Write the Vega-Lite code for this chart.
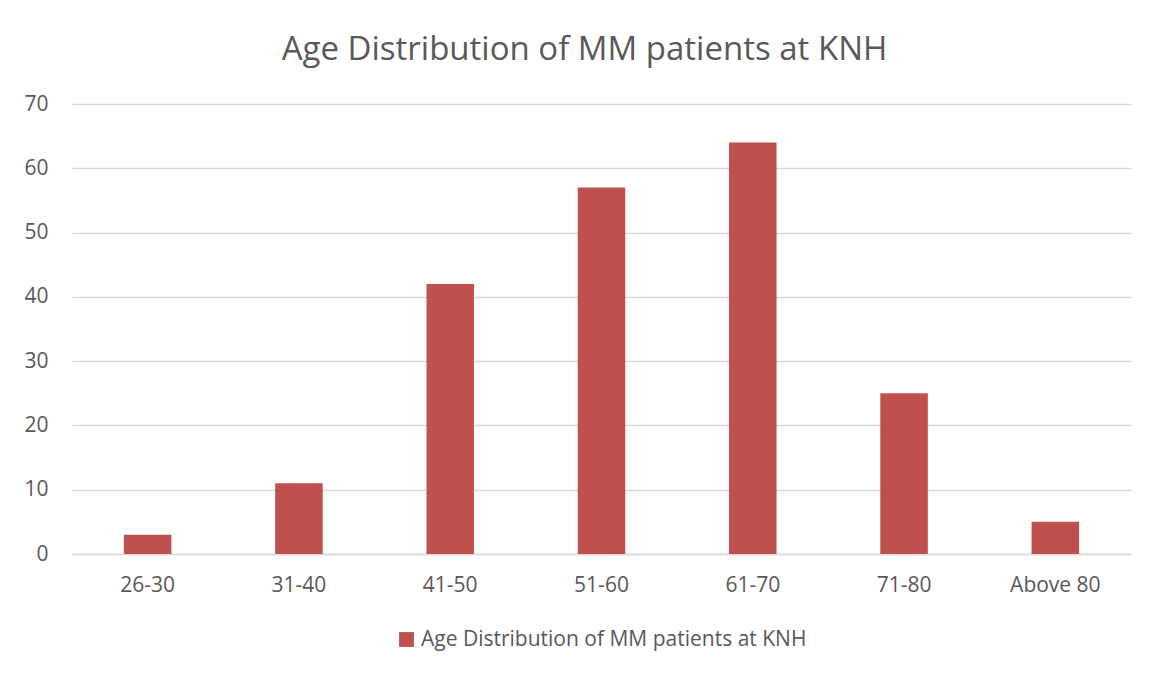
{
  "$schema": "https://vega.github.io/schema/vega-lite/v6.json",
  "width": 1059,
  "height": 450,
  "autosize": "none",
  "padding": {"left": 72, "top": 104, "right": 30, "bottom": 123},
  "background": "white",
  "title": {
    "text": "Age Distribution of MM patients at KNH",
    "font": "Open Sans",
    "fontSize": 33,
    "fontWeight": "normal",
    "color": "#595959",
    "anchor": "middle",
    "offset": 26,
    "dx": -17
  },
  "data": {
    "values": [
      {"age": "26-30", "count": 3, "series": "Age Distribution of MM patients at KNH"},
      {"age": "31-40", "count": 11, "series": "Age Distribution of MM patients at KNH"},
      {"age": "41-50", "count": 42, "series": "Age Distribution of MM patients at KNH"},
      {"age": "51-60", "count": 57, "series": "Age Distribution of MM patients at KNH"},
      {"age": "61-70", "count": 64, "series": "Age Distribution of MM patients at KNH"},
      {"age": "71-80", "count": 25, "series": "Age Distribution of MM patients at KNH"},
      {"age": "Above 80", "count": 5, "series": "Age Distribution of MM patients at KNH"}
    ]
  },
  "mark": {"type": "bar"},
  "encoding": {
    "x": {
      "field": "age",
      "type": "nominal",
      "sort": null,
      "scale": {"paddingInner": 0.686, "paddingOuter": 0.343},
      "axis": {
        "title": null,
        "labelAngle": 0,
        "labelFont": "Open Sans",
        "labelFontSize": 21,
        "labelColor": "#595959",
        "ticks": false,
        "domainColor": "#d9d9d9",
        "domainWidth": 1.5,
        "labelPadding": 20
      }
    },
    "y": {
      "field": "count",
      "type": "quantitative",
      "scale": {"domain": [0, 70]},
      "axis": {
        "title": null,
        "values": [0, 10, 20, 30, 40, 50, 60, 70],
        "labelFont": "Open Sans",
        "labelFontSize": 21,
        "labelColor": "#595959",
        "ticks": false,
        "domain": false,
        "gridColor": "#d9d9d9",
        "gridWidth": 1.5,
        "labelPadding": 24
      }
    },
    "color": {
      "field": "series",
      "type": "nominal",
      "scale": {"range": ["#C0504D"]},
      "legend": {
        "title": null,
        "orient": "bottom",
        "direction": "horizontal",
        "symbolType": "square",
        "symbolSize": 220,
        "symbolStrokeWidth": 0,
        "labelFont": "Open Sans",
        "labelFontSize": 21,
        "labelColor": "#595959",
        "offset": 34,
        "labelLimit": 700
      }
    }
  },
  "config": {
    "view": {"stroke": null},
    "legend": {"layout": {"bottom": {"anchor": "middle"}}}
  }
}
